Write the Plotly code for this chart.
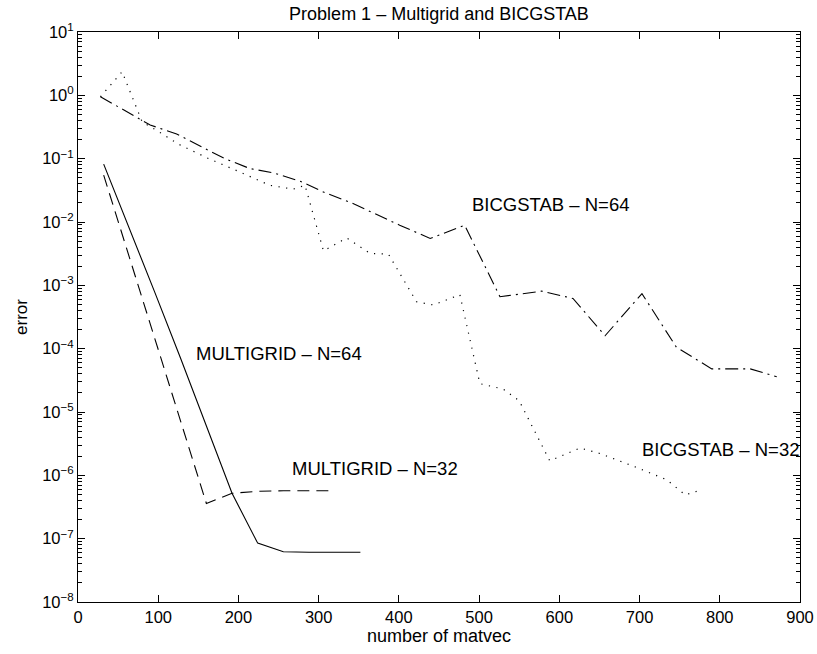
import math
import plotly.graph_objects as go

# ---- data ----
mg64_x = [32, 64, 96, 128, 160, 192, 224, 256, 288, 320, 352]
mg64_y = [0.082, 8.0e-3, 7.6e-4, 7.0e-5, 6.2e-6, 5.2e-7, 8.5e-8, 6.2e-8, 6.1e-8, 6.1e-8, 6.1e-8]

mg32_x = [32, 64, 96, 128, 160, 192, 224, 256, 288, 320]
mg32_y = [0.055, 2.8e-3, 1.4e-4, 7.0e-6, 3.6e-7, 5.2e-7, 5.6e-7, 5.7e-7, 5.7e-7, 5.7e-7]

bi64_x = [28, 62, 90, 123, 152, 183, 214, 245, 277, 308, 341, 401, 439, 482, 526, 578, 617, 657, 703, 746, 790, 838, 871]
bi64_y = [0.95, 0.55, 0.34, 0.245, 0.158, 0.10, 0.07, 0.059, 0.044, 0.029, 0.020, 8.9e-3, 5.5e-3, 8.9e-3,
          6.6e-4, 8.1e-4, 6.2e-4, 1.6e-4, 7.4e-4, 1.05e-4, 4.8e-5, 4.8e-5, 3.6e-5]

bi32_x = [28, 55, 80, 100, 125, 163, 200, 239, 268, 283, 306, 335, 364, 387, 422, 443, 476, 501, 530, 550,
          588, 626, 651, 692, 734, 757, 777]
bi32_y = [0.95, 2.36, 0.38, 0.27, 0.17, 0.10, 0.063, 0.038, 0.033, 0.038, 3.5e-3, 5.6e-3, 3.2e-3, 3.1e-3,
          5.5e-4, 4.9e-4, 7.1e-4, 2.8e-5, 2.3e-5, 1.5e-5, 1.7e-6, 2.7e-6, 2.2e-6, 1.4e-6, 8.5e-7, 4.9e-7, 5.9e-7]

label_text = ["BICGSTAB \u2013 N=64", "BICGSTAB \u2013 N=32", "MULTIGRID \u2013 N=64", "MULTIGRID \u2013 N=32"]
label_x = [489, 701, 144, 264]
label_y = [1.87e-2, 2.6e-6, 8.5e-5, 1.3e-6]

x_ticks = [0, 100, 200, 300, 400, 500, 600, 700, 800, 900]
y_exp = [-8, -7, -6, -5, -4, -3, -2, -1, 0, 1]

FONT = "Liberation Sans, Arial, Helvetica, sans-serif"

fig = go.Figure()
fig.add_trace(go.Scatter(x=mg64_x, y=mg64_y, mode="lines",
                         line=dict(color="black", width=1.1)))
fig.add_trace(go.Scatter(x=mg32_x, y=mg32_y, mode="lines",
                         line=dict(color="black", width=1.1, dash="12px,7px")))
fig.add_trace(go.Scatter(x=bi64_x, y=bi64_y, mode="lines",
                         line=dict(color="black", width=1.1, dash="13px,5px,2px,5px")))
fig.add_trace(go.Scatter(x=bi32_x, y=bi32_y, mode="lines",
                         line=dict(color="black", width=1.2, dash="1.2px,6.5px")))

for t, x, y in zip(label_text, label_x, label_y):
    fig.add_annotation(x=x, y=math.log10(y), text=t, showarrow=False,
                       xanchor="left", yanchor="middle",
                       font=dict(family=FONT, size=18.5, color="black"))

minor_vals = [m * 10 ** e for e in y_exp[:-1] for m in range(2, 10)]

fig.update_layout(
    width=817, height=654,
    paper_bgcolor="white", plot_bgcolor="white",
    showlegend=False,
    margin=dict(l=78, r=17, t=32, b=52, autoexpand=False),
    title=dict(text="Problem 1 \u2013 Multigrid and BICGSTAB", x=0.5, xref="paper",
               y=1 - 14 / 654, yref="container", xanchor="center", yanchor="middle",
               font=dict(family=FONT, size=18, color="black")),
    font=dict(family=FONT, size=16.5, color="black"),
)
fig.update_xaxes(
    range=[0, 900], tickvals=x_ticks, ticktext=[str(v) for v in x_ticks],
    ticks="inside", ticklen=7, tickcolor="black", showline=True, linecolor="black",
    linewidth=1, mirror="ticks", showgrid=False, zeroline=False,
    ticklabeloverflow="allow",
    title=dict(text="number of matvec", standoff=4, font=dict(size=18)),
    tickfont=dict(size=16.5),
)
fig.update_yaxes(
    type="log", range=[-8, 1],
    tickvals=[10 ** e for e in y_exp],
    ticktext=["10<sup>%s</sup>" % (str(e).replace("-", "\u2212")) for e in y_exp],
    ticks="inside", ticklen=7, tickcolor="black", showline=True, linecolor="black",
    linewidth=1, mirror="ticks", showgrid=False, zeroline=False,
    minor=dict(ticks="inside", ticklen=4, tickcolor="black", tickvals=minor_vals, showgrid=False),
    title=dict(text="error", standoff=10, font=dict(size=17)),
    tickfont=dict(size=16.5),
)

fig.write_html("out.html", config={"displayModeBar": False},
               post_script="document.body.style.margin='0px';")
